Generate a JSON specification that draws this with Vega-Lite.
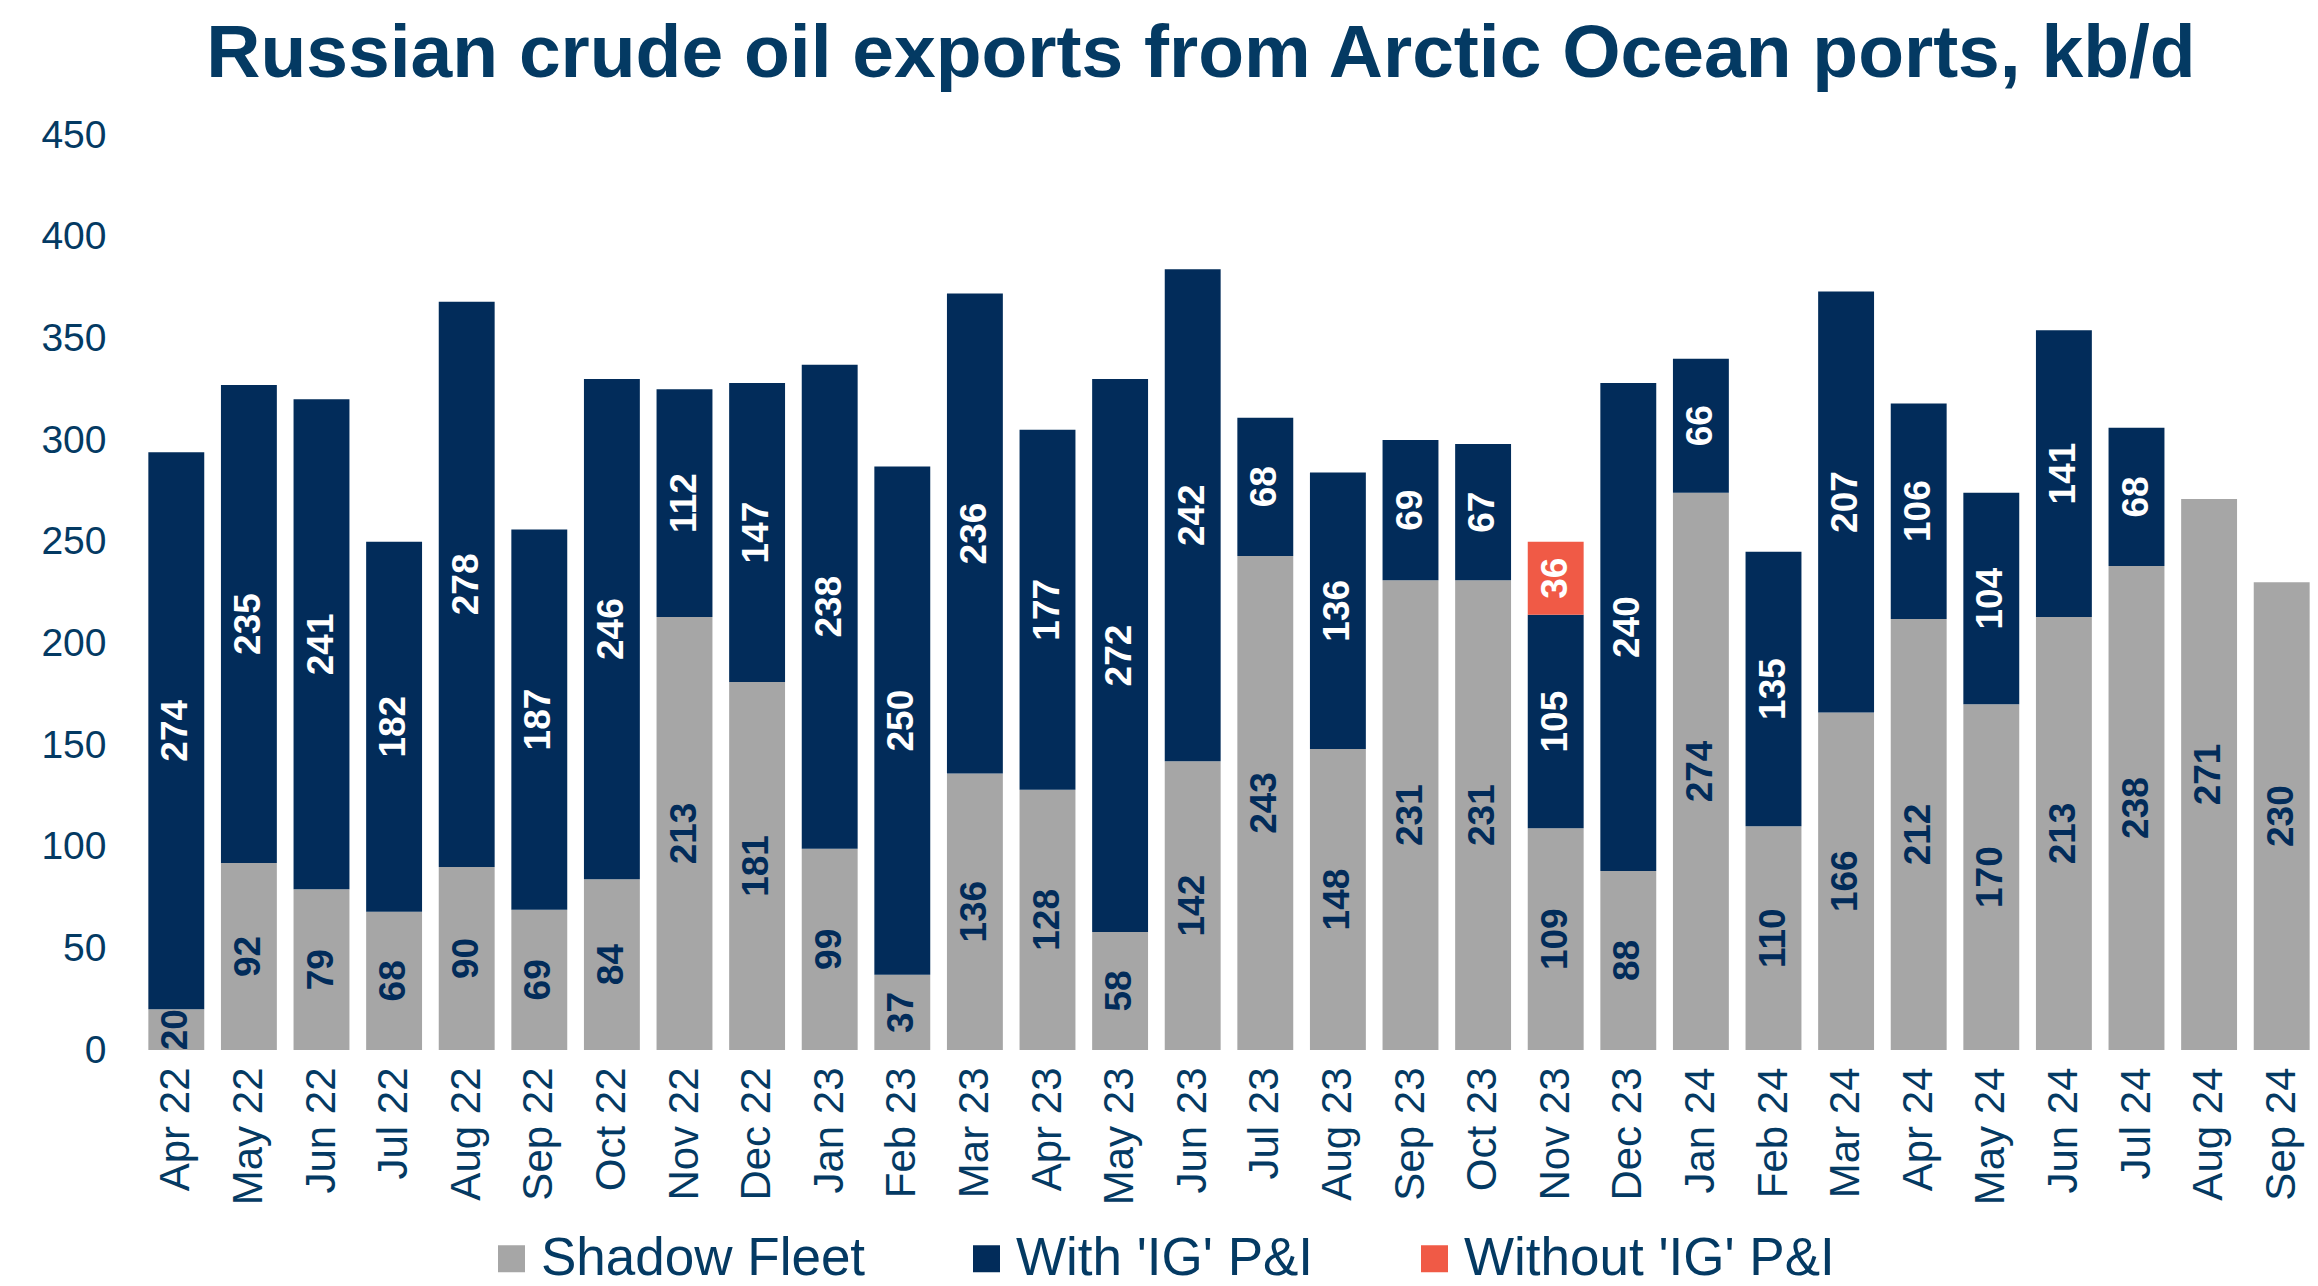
{
  "$schema": "https://vega.github.io/schema/vega-lite/v6.json",
  "width": 2178,
  "height": 915,
  "autosize": {"type": "none"},
  "padding": {"left": 140, "top": 135, "right": 0, "bottom": 236},
  "background": "white",
  "config": {"view": {"stroke": null}, "font": "Liberation Sans"},
  "title": {
    "text": "Russian crude oil exports from Arctic Ocean ports, kb/d",
    "font": "Liberation Sans",
    "fontSize": 75,
    "fontWeight": "bold",
    "color": "#043A63",
    "anchor": "middle",
    "dx": -28,
    "offset": 23
  },
  "data": {
    "values": [
      {"month": "Apr 22", "series": "Shadow Fleet", "value": 20},
      {"month": "Apr 22", "series": "With 'IG' P&I", "value": 274},
      {"month": "May 22", "series": "Shadow Fleet", "value": 92},
      {"month": "May 22", "series": "With 'IG' P&I", "value": 235},
      {"month": "Jun 22", "series": "Shadow Fleet", "value": 79},
      {"month": "Jun 22", "series": "With 'IG' P&I", "value": 241},
      {"month": "Jul 22", "series": "Shadow Fleet", "value": 68},
      {"month": "Jul 22", "series": "With 'IG' P&I", "value": 182},
      {"month": "Aug 22", "series": "Shadow Fleet", "value": 90},
      {"month": "Aug 22", "series": "With 'IG' P&I", "value": 278},
      {"month": "Sep 22", "series": "Shadow Fleet", "value": 69},
      {"month": "Sep 22", "series": "With 'IG' P&I", "value": 187},
      {"month": "Oct 22", "series": "Shadow Fleet", "value": 84},
      {"month": "Oct 22", "series": "With 'IG' P&I", "value": 246},
      {"month": "Nov 22", "series": "Shadow Fleet", "value": 213},
      {"month": "Nov 22", "series": "With 'IG' P&I", "value": 112},
      {"month": "Dec 22", "series": "Shadow Fleet", "value": 181},
      {"month": "Dec 22", "series": "With 'IG' P&I", "value": 147},
      {"month": "Jan 23", "series": "Shadow Fleet", "value": 99},
      {"month": "Jan 23", "series": "With 'IG' P&I", "value": 238},
      {"month": "Feb 23", "series": "Shadow Fleet", "value": 37},
      {"month": "Feb 23", "series": "With 'IG' P&I", "value": 250},
      {"month": "Mar 23", "series": "Shadow Fleet", "value": 136},
      {"month": "Mar 23", "series": "With 'IG' P&I", "value": 236},
      {"month": "Apr 23", "series": "Shadow Fleet", "value": 128},
      {"month": "Apr 23", "series": "With 'IG' P&I", "value": 177},
      {"month": "May 23", "series": "Shadow Fleet", "value": 58},
      {"month": "May 23", "series": "With 'IG' P&I", "value": 272},
      {"month": "Jun 23", "series": "Shadow Fleet", "value": 142},
      {"month": "Jun 23", "series": "With 'IG' P&I", "value": 242},
      {"month": "Jul 23", "series": "Shadow Fleet", "value": 243},
      {"month": "Jul 23", "series": "With 'IG' P&I", "value": 68},
      {"month": "Aug 23", "series": "Shadow Fleet", "value": 148},
      {"month": "Aug 23", "series": "With 'IG' P&I", "value": 136},
      {"month": "Sep 23", "series": "Shadow Fleet", "value": 231},
      {"month": "Sep 23", "series": "With 'IG' P&I", "value": 69},
      {"month": "Oct 23", "series": "Shadow Fleet", "value": 231},
      {"month": "Oct 23", "series": "With 'IG' P&I", "value": 67},
      {"month": "Nov 23", "series": "Shadow Fleet", "value": 109},
      {"month": "Nov 23", "series": "With 'IG' P&I", "value": 105},
      {"month": "Nov 23", "series": "Without 'IG' P&I", "value": 36},
      {"month": "Dec 23", "series": "Shadow Fleet", "value": 88},
      {"month": "Dec 23", "series": "With 'IG' P&I", "value": 240},
      {"month": "Jan 24", "series": "Shadow Fleet", "value": 274},
      {"month": "Jan 24", "series": "With 'IG' P&I", "value": 66},
      {"month": "Feb 24", "series": "Shadow Fleet", "value": 110},
      {"month": "Feb 24", "series": "With 'IG' P&I", "value": 135},
      {"month": "Mar 24", "series": "Shadow Fleet", "value": 166},
      {"month": "Mar 24", "series": "With 'IG' P&I", "value": 207},
      {"month": "Apr 24", "series": "Shadow Fleet", "value": 212},
      {"month": "Apr 24", "series": "With 'IG' P&I", "value": 106},
      {"month": "May 24", "series": "Shadow Fleet", "value": 170},
      {"month": "May 24", "series": "With 'IG' P&I", "value": 104},
      {"month": "Jun 24", "series": "Shadow Fleet", "value": 213},
      {"month": "Jun 24", "series": "With 'IG' P&I", "value": 141},
      {"month": "Jul 24", "series": "Shadow Fleet", "value": 238},
      {"month": "Jul 24", "series": "With 'IG' P&I", "value": 68},
      {"month": "Aug 24", "series": "Shadow Fleet", "value": 271},
      {"month": "Sep 24", "series": "Shadow Fleet", "value": 230}
    ]
  },
  "transform": [
    {"stack": "value", "groupby": ["month"], "sort": [{"field": "series", "order": "ascending"}], "as": ["v0", "v1"]},
    {"calculate": "(datum.v0 + datum.v1) / 2", "as": "mid"}
  ],
  "encoding": {
    "x": {
      "field": "month",
      "type": "nominal",
      "sort": null,
      "scale": {"paddingInner": 0.23, "paddingOuter": 0.115},
      "axis": {
        "title": null,
        "domain": false,
        "ticks": false,
        "labelAngle": -90,
        "labelAlign": "right",
        "labelBaseline": "middle",
        "labelFont": "Liberation Sans",
        "labelFontSize": 42,
        "labelColor": "#043A63",
        "labelPadding": 17
      }
    }
  },
  "layer": [
    {
      "mark": {"type": "bar"},
      "encoding": {
        "y": {
          "field": "v0",
          "type": "quantitative",
          "scale": {"domain": [0, 450], "nice": false},
          "axis": {
            "title": null,
            "domain": false,
            "ticks": false,
            "grid": false,
            "values": [0, 50, 100, 150, 200, 250, 300, 350, 400, 450],
            "labelFont": "Liberation Sans",
            "labelFontSize": 39,
            "labelColor": "#043A63",
            "labelPadding": 34
          }
        },
        "y2": {"field": "v1"},
        "color": {
          "field": "series",
          "type": "nominal",
          "scale": {
            "domain": ["Shadow Fleet", "With 'IG' P&I", "Without 'IG' P&I"],
            "range": ["#A6A6A6", "#022C5A", "#F05A46"]
          },
          "legend": {
            "title": null,
            "orient": "none",
            "direction": "horizontal",
            "legendX": 345,
            "legendY": 1097,
            "symbolType": "square",
            "symbolSize": 729,
            "symbolStrokeWidth": 0,
            "labelFont": "Liberation Sans",
            "labelFontSize": 53,
            "labelColor": "#043A63",
            "labelOffset": 3,
            "columnPadding": 94,
            "labelLimit": 600
          }
        }
      }
    },
    {
      "mark": {"type": "text", "angle": 270, "align": "center", "baseline": "middle", "font": "Liberation Sans", "fontWeight": "bold", "fontSize": 37},
      "encoding": {
        "y": {"field": "mid", "type": "quantitative"},
        "text": {"field": "value", "type": "quantitative"},
        "color": {
          "condition": {"test": "datum.series === 'Shadow Fleet'", "value": "#022C5A"},
          "value": "#FFFFFF"
        }
      }
    }
  ]
}
